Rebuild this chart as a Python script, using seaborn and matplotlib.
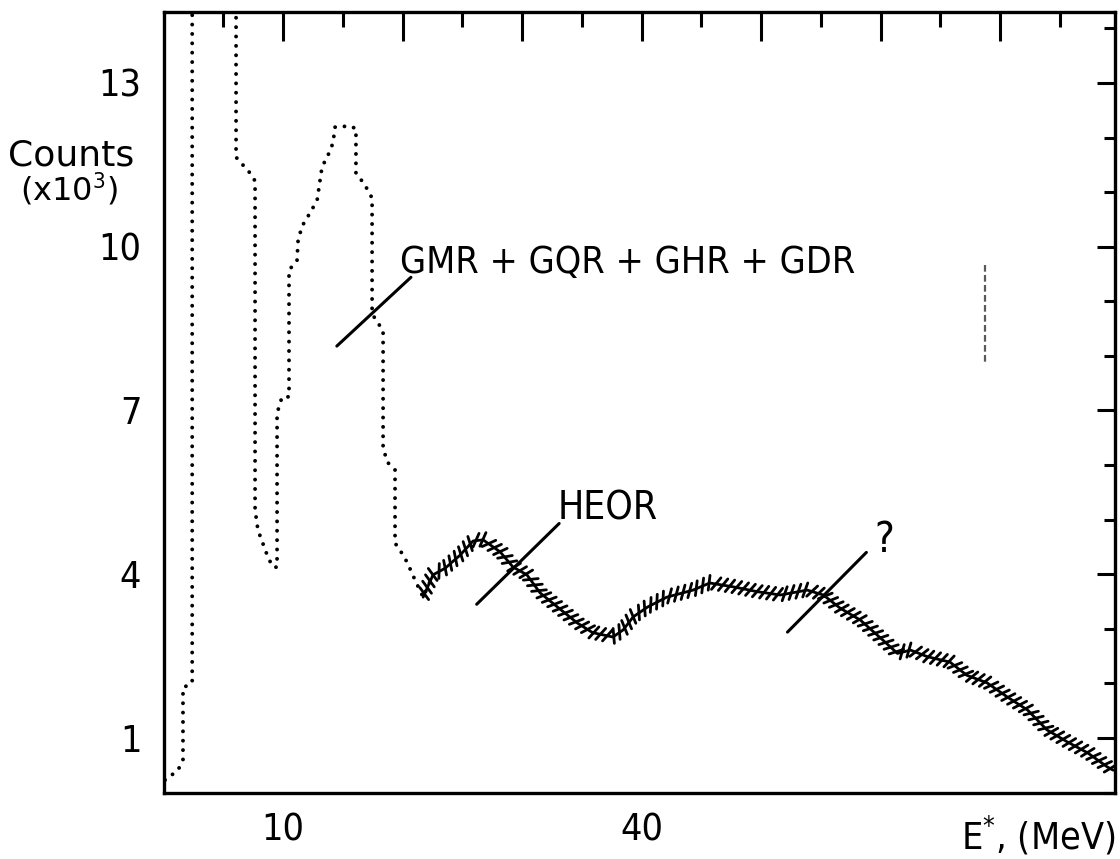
import matplotlib
matplotlib.use("Agg")
import matplotlib.pyplot as plt
from matplotlib import patheffects as pe
from matplotlib.ticker import FixedLocator
import seaborn as sns
import pandas as pd

sns.set_theme(style="white")
plt.rcParams["font.family"] = ["DejaVu Sans"]
plt.rcParams["font.stretch"] = "condensed"
plt.rcParams["text.color"] = "black"
plt.rcParams["xtick.color"] = "black"
plt.rcParams["ytick.color"] = "black"

# Excitation energy E* (MeV) and counts (x10^3), dotted low-energy trace
e_low = [0.13, 1.21, 1.63, 1.63, 2.40, 2.40, 6.07, 6.07, 7.40, 7.66, 7.66,
         7.90, 8.74, 9.16, 9.50, 9.50, 9.92, 10.50, 10.50, 11.17, 11.26,
         11.60, 12.26, 12.85, 13.26, 13.77, 14.18, 14.35, 15.44, 16.10,
         16.10, 16.86, 17.28, 17.45, 17.45, 17.78, 18.37, 18.37, 18.70,
         19.37, 19.37, 19.79, 20.38, 21.05, 21.72, 22.55]
c_low = [0.23, 0.41, 0.60, 1.92, 2.01, 16.0, 16.0, 11.64, 11.31, 11.20, 5.18,
         4.81, 4.31, 4.13, 4.13, 6.95, 7.25, 7.25, 9.57, 9.75, 10.12,
         10.38, 10.62, 10.85, 11.46, 11.68, 11.90, 12.19, 12.21, 12.17,
         11.35, 11.13, 10.95, 10.90, 8.78, 8.65, 8.47, 6.33, 6.06,
         5.91, 4.57, 4.44, 4.22, 3.89, 3.58, 3.99]

# Continuation above ~22 MeV (hand-hatched trace)
e_high = [21.72, 22.55, 23.56, 24.81, 25.90, 26.74, 28.16, 29.25, 30.40,
          31.50, 32.90, 34.60, 35.90, 37.60, 38.45, 39.30, 40.50, 42.10,
          44.30, 45.70, 47.65, 49.70, 51.60, 53.85, 55.20, 56.60, 58.30,
          60.20, 61.40, 62.50, 63.90, 65.80, 67.20, 68.90, 70.60, 72.30,
          73.90, 75.60, 77.30, 78.96, 79.45]
c_high = [3.58, 3.99, 4.11, 4.35, 4.61, 4.63, 4.41, 4.13, 3.99,
          3.66, 3.41, 3.11, 2.93, 2.85, 2.98, 3.22, 3.40, 3.58,
          3.71, 3.84, 3.77, 3.68, 3.62, 3.71, 3.62, 3.38, 3.16,
          2.79, 2.55, 2.61, 2.49, 2.39, 2.15, 2.01, 1.75, 1.51,
          1.15, 0.93, 0.73, 0.47, 0.41]

# Resonance labels and their pointer lines (E*, counts)
labels = ["GMR + GQR + GHR + GDR", "HEOR", "?"]
label_pos = [(19.8, 9.51), (33.0, 5.01), (59.5, 4.41)]
label_size = [27, 28, 30]
pointer_e = [(14.5, 20.7), (26.2, 33.1), (52.2, 58.8)]
pointer_c = [(8.18, 9.44), (3.45, 4.93), (2.94, 4.40)]

# Faint pen mark near the right edge
mark_e = [68.7, 68.7]
mark_c = [9.66, 7.83]

y_major = [1, 4, 7, 10, 13]
y_minor = list(range(0, 15))
x_major = [10, 20, 30, 40, 50, 60, 70]
x_minor = [5, 15, 25, 35, 45, 55, 65, 75]
x_labels = ["10", "", "", "40", "", "", ""]

low = pd.DataFrame({"E": e_low, "C": c_low})
high = pd.DataFrame({"E": e_high, "C": c_high})

fig = plt.figure(figsize=(11.2, 8.59), dpi=100)
ax = fig.add_axes([163.5 / 1120, 1 - 792.6 / 859, (1115 - 163.5) / 1120,
                   (792.6 - 12) / 859])

sns.lineplot(data=low, x="E", y="C", sort=False, estimator=None, ax=ax,
             color="black", lw=2.8, legend=False)
ax.lines[-1].set_linestyle((0, (0.01, 2.4)))
ax.lines[-1].set_dash_capstyle("round")

sns.lineplot(data=high, x="E", y="C", sort=False, estimator=None, ax=ax,
             color="black", lw=2.0, legend=False)
ax.lines[-1].set_path_effects([
    pe.TickedStroke(spacing=5, angle=60, length=1.15, linewidth=2.0),
    pe.TickedStroke(spacing=5, angle=-120, length=1.0, linewidth=2.0),
    pe.Normal(),
])

for (e0, e1), (c0, c1) in zip(pointer_e, pointer_c):
    ax.plot([e0, e1], [c0, c1], color="black", lw=2.2,
            solid_capstyle="round")

ax.plot(mark_e, mark_c, color="0.35", lw=1.6, ls=(0, (3, 1.5)))

for txt, (xe, yc), fs in zip(labels, label_pos, label_size):
    ax.text(xe, yc, txt, fontsize=fs, ha="left", va="baseline",
            fontstretch="condensed")

ax.set_xlim(0, 79.6)
ax.set_ylim(0, 14.3)

ax.xaxis.set_major_locator(FixedLocator(x_major))
ax.xaxis.set_minor_locator(FixedLocator(x_minor))
ax.set_xticklabels(x_labels)
ax.yaxis.set_major_locator(FixedLocator(y_major))
ax.yaxis.set_minor_locator(FixedLocator(y_minor))
ax.set_yticklabels([str(v) for v in y_major])

ax.tick_params(which="both", direction="in", top=True, right=True,
               color="black", width=2.2)
ax.tick_params(axis="x", which="major", length=21, labelsize=27, pad=14)
ax.tick_params(axis="x", which="minor", length=11)
ax.tick_params(axis="y", which="major", length=13, labelsize=27, pad=16)
ax.tick_params(axis="y", which="minor", length=8)
for s in ax.spines.values():
    s.set_color("black")
    s.set_linewidth(2.4)
ax.set_xlabel("")
ax.set_ylabel("")

fig.text(8 / 1120, 1 - 155 / 859, "Counts", fontsize=26,
         family=["DejaVu Sans"], fontstretch="normal",
         ha="left", va="center")
fig.text(20 / 1120, 1 - 189 / 859, "(x10$^3$)", fontsize=23,
         family=["DejaVu Sans"], fontstretch="normal",
         ha="left", va="center")
fig.text(1115 / 1120, 1 - 850 / 859, "E$^{*}$, (MeV)", fontsize=27,
         ha="right", va="baseline")

fig.savefig("out.png", dpi=100, facecolor="white")
